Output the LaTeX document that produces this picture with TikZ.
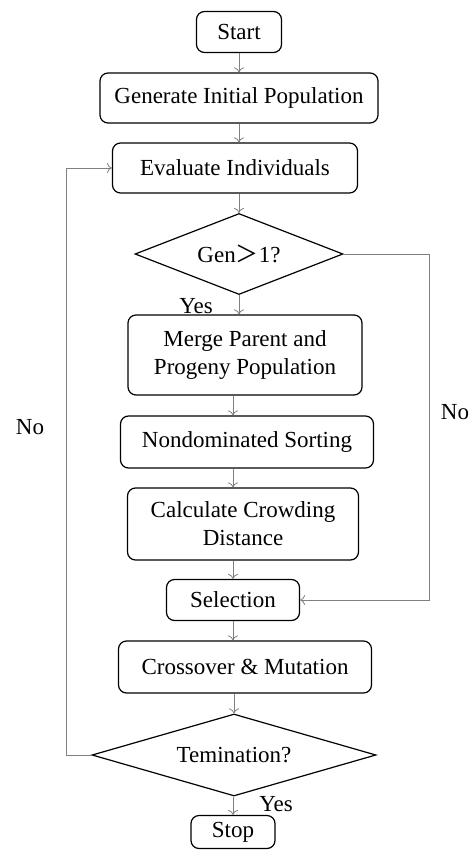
\documentclass[tikz,border=0pt]{standalone}
\usepackage{fontspec}
\setmainfont{Liberation Serif}
\newfontfamily\cjk{Noto Sans CJK SC}
\usetikzlibrary{shapes.geometric,arrows.meta}

\begin{document}
\begin{tikzpicture}[x=1pt, y=-1pt,
  font=\fontsize{23}{28}\selectfont,
  >={To[length=5pt, width=10pt]},
  box/.style={rectangle, rounded corners=8pt, draw, line width=1.2pt, align=center, inner sep=2pt},
  decide/.style={diamond, aspect=3, draw, line width=1.2pt, inner sep=0pt},
  arr/.style={->, draw=gray, line width=0.8pt},
  lbl/.style={inner sep=0pt}]
\useasboundingbox (0,0) rectangle (470,850);

\node[box, minimum width=85pt, minimum height=41pt] (start) at (239,32) {Start};
\node[box, minimum width=278pt, minimum height=50pt] (init) at (239,98) {Generate Initial Population};
\node[box, minimum width=245pt, minimum height=50pt] (eval) at (235,168) {Evaluate Individuals};
\node[decide, minimum width=208pt, minimum height=81pt] (gen) at (239,254) {Gen{\cjk ＞}1?};
\node[box, minimum width=234pt, minimum height=80pt] (merge) at (245,355) {Merge Parent and\\Progeny Population};
\node[box, minimum width=253pt, minimum height=52pt] (sort) at (247,442) {Nondominated Sorting};
\node[box, minimum width=231pt, minimum height=72pt] (crowd) at (243,524) {Calculate Crowding\\Distance};
\node[box, minimum width=133pt, minimum height=41pt] (select) at (233,600) {Selection};
\node[box, minimum width=253pt, minimum height=52pt] (cross) at (245,667) {Crossover \& Mutation};
\node[decide, minimum width=284pt, minimum height=82pt] (term) at (234,755) {Temination?};
\node[box, minimum width=84pt, minimum height=33pt] (stop) at (233,832) {Stop};

\node[lbl] (yes1) at (196,306) {Yes};
\node[lbl] (no1) at (30,427) {No};
\node[lbl] (no2) at (455,412) {No};
\node[lbl] (yes2) at (276,804) {Yes};

\coordinate (lft) at (66,0);
\coordinate (rgt) at (429,0);

\draw[arr] (start) -- (start |- init.north);
\draw[arr] (init) -- (init |- eval.north);
\draw[arr] (gen |- eval.south) -- (gen.north);
\draw[arr] (gen.south) -- (gen.south |- merge.north);
\draw[arr] (select |- merge.south) -- (select |- sort.north);
\draw[arr] (select |- sort.south) -- (select |- crowd.north);
\draw[arr] (select |- crowd.south) -- (select.north);
\draw[arr] (select.south) -- (select |- cross.north);
\draw[arr] (term |- cross.south) -- (term.north);
\draw[arr] (stop |- term.south) -- (stop.north);
\draw[arr] (gen.east) -| (rgt |- select.east) -- (select.east);
\draw[arr] (term.west) -| (lft |- eval.west) -- (eval.west);

\end{tikzpicture}
\end{document}
